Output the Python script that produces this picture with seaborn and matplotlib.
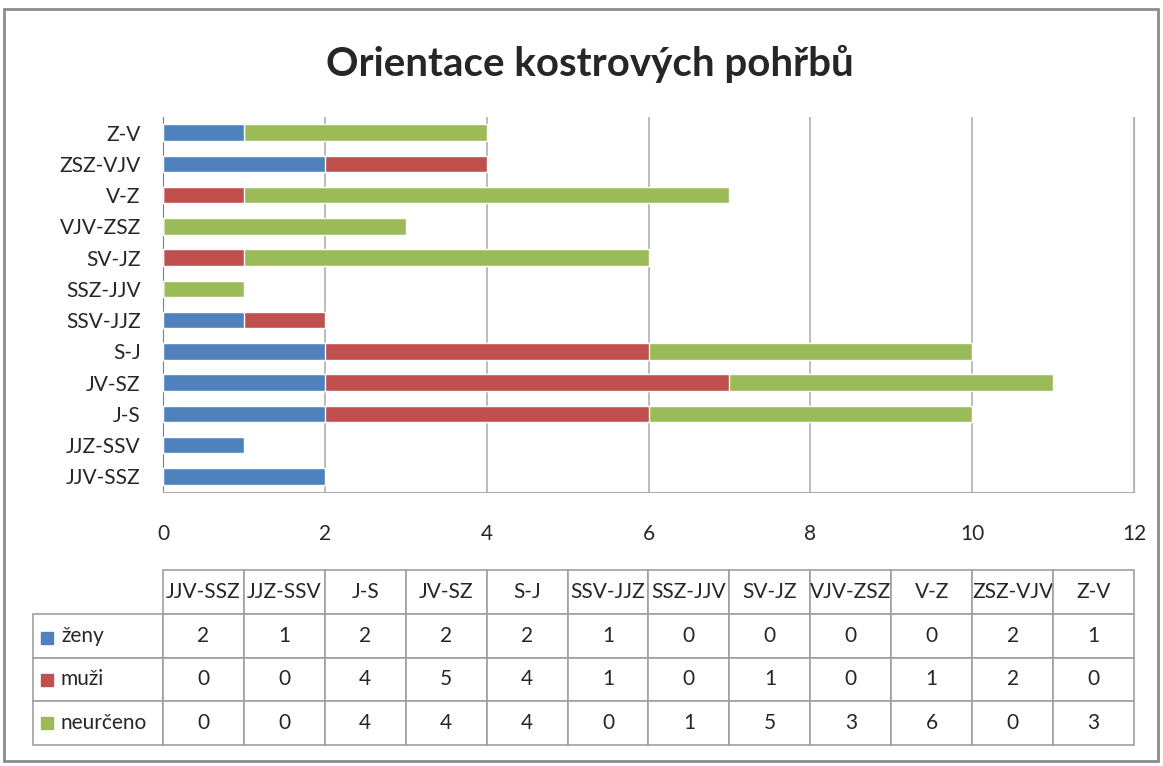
import matplotlib
matplotlib.use('Agg')
import matplotlib.pyplot as plt
from matplotlib.patches import Rectangle
import seaborn as sns
import pandas as pd

# Data
smery = ['JJV-SSZ', 'JJZ-SSV', 'J-S', 'JV-SZ', 'S-J', 'SSV-JJZ', 'SSZ-JJV',
         'SV-JZ', 'VJV-ZSZ', 'V-Z', 'ZSZ-VJV', 'Z-V']
zeny = [2, 1, 2, 2, 2, 1, 0, 0, 0, 0, 2, 1]
muzi = [0, 0, 4, 5, 4, 1, 0, 1, 0, 1, 2, 0]
neurceno = [0, 0, 4, 4, 4, 0, 1, 5, 3, 6, 0, 3]
series = ['ženy', 'muži', 'neurčeno']
colors = ['#4F81BD', '#C0504D', '#9BBB59']

df = pd.DataFrame({'smer': smery, 'zeny': zeny, 'muzi': muzi, 'neurceno': neurceno})
df['c1'] = df['zeny']
df['c2'] = df['zeny'] + df['muzi']
df['c3'] = df['c2'] + df['neurceno']

sns.set_style('white')
plt.rcParams['font.family'] = ['Lato', 'DejaVu Sans']

fig = plt.figure(figsize=(11.63, 7.66), dpi=100)
ax = fig.add_axes([163 / 1163, 274 / 766, 971 / 1163, 375 / 766])

order = smery[::-1]
# stacked bars: draw cumulative totals back to front
for col, c in zip(['c3', 'c2', 'c1'], colors[::-1]):
    sns.barplot(data=df, x=col, y='smer', order=order, color=c, width=0.53,
                saturation=1, orient='h', ax=ax, zorder=3)

ax.set_xlim(0, 12)
ax.set_xticks(range(0, 13, 2))
ax.set_xlabel('')
ax.set_ylabel('')
ax.grid(axis='x', color='#b0b0b0', lw=1.2, zorder=0)
ax.tick_params(axis='x', length=0, pad=23, labelsize=15)
ax.tick_params(axis='y', length=0, pad=16, labelsize=15)
ax.spines['top'].set_visible(False)
ax.spines['right'].set_color('#b0b0b0')
ax.spines['bottom'].set_color('#b0b0b0')
ax.spines['left'].set_color('#808080')

fig.text(590 / 1163, 1 - 64 / 766, 'Orientace kostrových pohřbů', ha='center',
         va='center', fontsize=29, fontweight='bold')

# data table below the chart
rows = [zeny, muzi, neurceno]
cell_text = [[s] + [str(v) for v in row] for s, row in zip(series, rows)]
tw = 130 + 971
tbl = ax.table(cellText=cell_text, colLabels=[''] + smery,
               colWidths=[130 / tw] + [81 / tw] * 12, cellLoc='center',
               bbox=[-130 / 971, (492 - 745) / 375, 1101 / 971, 175 / 375])
tbl.auto_set_font_size(False)
tbl.set_fontsize(15)
for (r, c), cell in tbl.get_celld().items():
    cell.set_edgecolor('#a0a0a0')
    cell.set_linewidth(1.2)
    if c == 0:
        cell.get_text().set_ha('left')
        cell.PAD = 28 / 130
    if r == 0 and c == 0:
        cell.visible_edges = ''

row_y = [638, 680, 723]
for y, c in zip(row_y, colors):
    ax.add_patch(Rectangle(((41 - 163) / 971, (492 - y - 6) / 375), 12 / 971, 12 / 375,
                           transform=ax.transAxes, color=c, clip_on=False))

# outer frame
fig.add_artist(Rectangle((4 / 1163, 5 / 766), 1154 / 1163, 752 / 766,
                         transform=fig.transFigure, fill=False, ec='#8c8c8c', lw=2))

fig.savefig('out.png', dpi=100)
